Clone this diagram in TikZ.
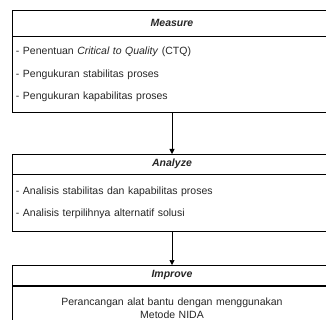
\documentclass[tikz,border=0pt]{standalone}
\usepackage{fontspec}
\setmainfont{Liberation Sans}
\usetikzlibrary{arrows.meta,positioning}
\tikzset{>/.tip={Triangle[width=5pt,length=5pt]}}

\begin{document}
\begin{tikzpicture}[x=1pt,y=1pt,line width=0.5pt,text=black!85,
  head/.style={draw,minimum width=320pt,minimum height=20pt,inner sep=0pt,
    font=\fontsize{10.5}{12}\selectfont\bfseries\itshape},
  body/.style={draw,minimum width=320pt,text width=312pt,inner sep=4pt,align=left,
    font=\fontsize{10.5}{22.5}\selectfont}]
  \useasboundingbox (0,0) rectangle (326,-320);
  \clip (0,0) rectangle (326,-320);
  \node(measure)[head,minimum height=26pt,anchor=north] at (172,-10){Measure};
  \node(measureBody)[body,below=0pt of measure,minimum height=76pt]
    {- Penentuan \textit{Critical to Quality} (CTQ)\\
     - Pengukuran stabilitas proses\\
     - Pengukuran kapabilitas proses};
  \node(analyze)[head,below=41pt of measureBody]{Analyze};
  \node(analyzeBody)[body,below=0pt of analyze,minimum height=56pt]
    {- Analisis stabilitas dan kapabilitas proses\\
     - Analisis terpilihnya alternatif solusi};
  \node(improve)[head,below=34pt of analyzeBody]{Improve};
  \node(improveBody)[body,align=center,font=\fontsize{10.5}{13}\selectfont,
    below=0pt of improve,minimum height=44pt]
    {Perancangan alat bantu dengan menggunakan\\Metode NIDA};
  \draw[->]
  (measureBody) edge (analyze)
  (analyzeBody) edge (improve);
\end{tikzpicture}
\end{document}
